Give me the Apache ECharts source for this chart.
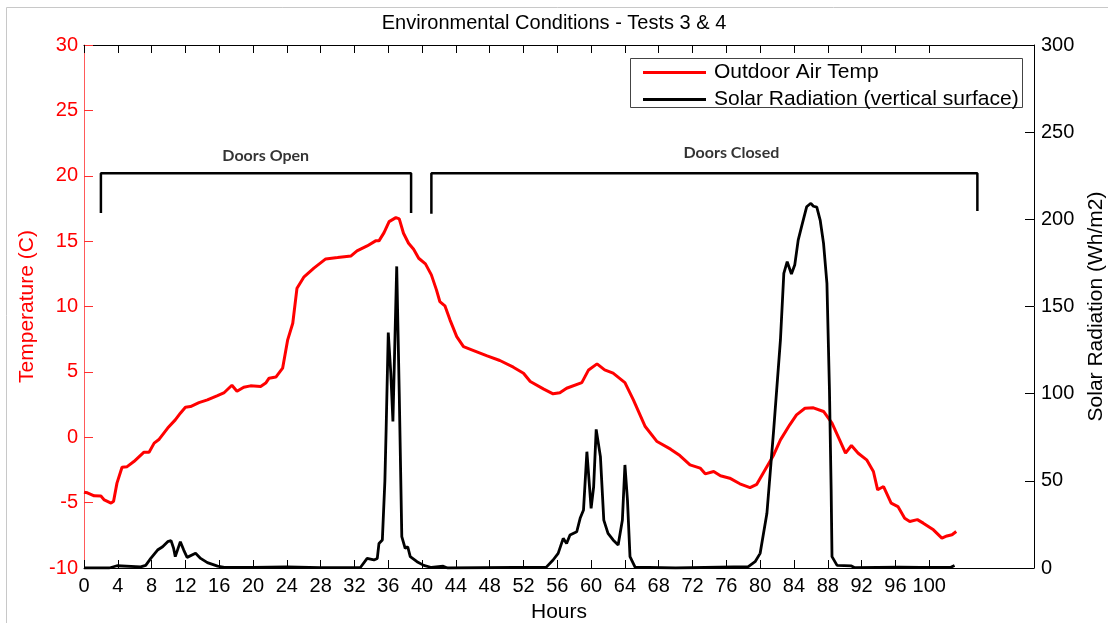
<!DOCTYPE html>
<html>
<head>
<meta charset="utf-8">
<script src="https://cdn.jsdelivr.net/npm/echarts@6/dist/echarts.min.js"></script>
<style>
  html, body { margin: 0; padding: 0; background: #fff; }
  #chart { width: 1108px; height: 623px; }
</style>
</head>
<body>
<div id="chart"></div>
<script>
// Outdoor air temperature (C) over the test period
const tempHours = [0.0, 0.4, 1.2, 2.0, 2.4, 3.2, 3.5, 3.9, 4.5, 5.1, 5.9, 7.1, 7.7, 8.3, 8.9, 9.9, 10.8, 11.4, 12.0, 12.6,
  13.6, 14.6, 15.8, 16.6, 17.5, 18.1, 18.9, 19.7, 20.9, 21.5, 21.9, 22.7, 23.5, 24.1, 24.7, 25.2, 26.0, 27.2, 28.6, 30.0,
  31.6, 32.3, 33.5, 34.5, 34.9, 35.5, 36.1, 36.9, 37.3, 37.8, 38.4, 39.0, 39.6, 40.4, 41.1, 41.7, 42.1, 42.7, 43.3, 44.1,
  44.9, 46.1, 47.7, 49.2, 50.8, 52.0, 52.8, 54.4, 55.5, 56.3, 57.1, 58.9, 59.7, 60.7, 61.6, 62.6, 64.0, 65.0, 66.4, 67.8,
  69.4, 70.5, 71.7, 72.9, 73.5, 74.5, 75.3, 76.4, 77.6, 78.8, 79.6, 80.4, 81.6, 82.4, 83.5, 84.3, 85.3, 86.3, 87.5, 88.5,
  89.4, 90.1, 90.8, 91.6, 92.6, 93.4, 93.9, 94.6, 95.5, 96.3, 97.1, 97.7, 98.6, 99.3, 100.5, 101.5, 102.1, 102.7, 103.2];
const tempValues = [-4.2, -4.25, -4.48, -4.5, -4.79, -5.04, -4.9, -3.51, -2.29, -2.25, -1.86, -1.14, -1.14, -0.45, -0.15, 0.70, 1.33, 1.84, 2.30, 2.35,
  2.65, 2.86, 3.19, 3.42, 3.98, 3.52, 3.83, 3.93, 3.88, 4.14, 4.52, 4.6, 5.28, 7.45, 8.72, 11.4, 12.24, 12.93, 13.64, 13.74,
  13.87, 14.25, 14.63, 15.02, 15.02, 15.65, 16.49, 16.8, 16.7, 15.6, 14.84, 14.38, 13.69, 13.26, 12.42, 11.27, 10.38, 10.05, 8.98, 7.70,
  6.93, 6.63, 6.22, 5.87, 5.36, 4.90, 4.26, 3.68, 3.32, 3.4, 3.75, 4.18, 5.15, 5.61, 5.15, 4.90, 4.18, 2.86, 0.82, -0.33,
  -0.91, -1.4, -2.11, -2.36, -2.80, -2.62, -2.95, -3.13, -3.56, -3.85, -3.6, -2.69, -1.35, -0.20, 0.95, 1.71, 2.22, 2.25, 1.97, 1.08,
  -0.20, -1.22, -0.63, -1.22, -1.73, -2.62, -4.02, -3.77, -5.04, -5.30, -6.19, -6.44, -6.3, -6.57, -7.08, -7.72, -7.55, -7.46, -7.21];

// Solar radiation on a vertical surface (Wh/m2)
const solarHours = [0, 3.0, 3.9, 6.7, 7.3, 7.9, 8.7, 9.3, 9.9, 10.3, 10.6, 10.8, 11.4, 11.8, 12.2, 13.2, 13.8, 14.6, 15.8, 16.6,
  20, 24, 28, 32.7, 33.5, 34.3, 34.7, 34.9, 35.3, 35.6, 35.75, 36.0, 36.3, 36.55, 37.0, 37.3, 37.6, 38.0, 38.3, 38.6,
  39.4, 40.2, 41.1, 42.5, 43, 54.7, 55.5, 56.1, 56.7, 57.1, 57.5, 58.3, 58.7, 59.1, 59.5, 60.0, 60.3, 60.6, 61.1, 61.5,
  62.0, 62.6, 63.2, 63.7, 64.0, 64.3, 64.6, 65.2, 70, 78.6, 79.4, 80.0, 80.8, 81.6, 82.4, 82.8, 83.2, 83.7, 84.1, 84.5,
  84.9, 85.5, 86.0, 86.3, 86.7, 87.1, 87.5, 87.9, 88.2, 88.4, 88.5, 89.1, 90.8, 91.2, 96.5, 99, 102.5, 103.0];
const solarValues = [0, 0, 1.3, 0.6, 1.5, 5.5, 10.3, 12.2, 15.1, 15.7, 11.3, 6.5, 15.1, 10.3, 6.1, 8.4, 5.5, 3.1, 1.1, 0.3,
  0.3, 0.6, 0.2, 0.3, 5.5, 4.6, 5.5, 14.1, 16.1, 50, 80, 135, 111.7, 84, 173, 100, 18, 11.3, 12.2, 6.5,
  3.6, 1.5, 0.3, 1, 0, 0.5, 4.6, 8.4, 17, 14.1, 18.9, 20.8, 28.5, 33.3, 66.7, 34.2, 46.6, 79.5, 63.9, 27.5,
  19.9, 16.1, 13.2, 27.5, 59.1, 39, 6.5, 0.5, 0, 0.8, 3.6, 8.4, 31.4, 79.2, 130.8, 169, 175.7, 168.6, 174, 188.1,
  195.8, 207.2, 209.2, 207.5, 207, 199.6, 186.2, 163.3, 102, 44.7, 6.5, 1.5, 1.2, 0.2, 0.5, 0.4, 0.3, 1.5];

// Axis ticks
const hourTicks = [0, 4, 8, 12, 16, 20, 24, 28, 32, 36, 40, 44, 48, 52, 56, 60, 64, 68, 72, 76, 80, 84, 88, 92, 96, 100];
const tempTicks = [-10, -5, 0, 5, 10, 15, 20, 25, 30];
const solarTicks = [0, 50, 100, 150, 200, 250, 300];

// Test-phase brackets (hours, temperature-axis units)
const openBracketHours = [2.0, 2.0, 38.7, 38.7];
const openBracketTemps = [17.15, 20.2, 20.2, 17.15];
const closedBracketHours = [41.1, 41.1, 105.7, 105.7];
const closedBracketTemps = [17.1, 20.2, 20.2, 17.3];
const phaseLabels = ['Doors Open', 'Doors Closed'];
const phaseLabelHours = [21.5, 76.6];
const phaseLabelTemps = [21.5, 21.75];

const zip = (xs, ys) => xs.map((x, i) => [x, ys[i]]);
const FONT = '"Liberation Sans", Arial, sans-serif';

const chart = echarts.init(document.getElementById('chart'), null, { renderer: 'canvas' });

const xCommon = {
  type: 'value', min: 0, max: 112.4,
  splitLine: { show: false },
  axisTick: { inside: true, length: 8, customValues: hourTicks, lineStyle: { color: '#000', width: 1 } },
  axisLine: { onZero: false, lineStyle: { color: '#000', width: 1 } }
};

chart.setOption({
  animation: false,
  backgroundColor: '#fff',
  title: {
    text: 'Environmental Conditions - Tests 3 & 4',
    left: 'center', top: 8,
    textStyle: { fontFamily: FONT, fontSize: 20, fontWeight: 'normal', color: '#000' }
  },
  legend: {
    orient: 'vertical',
    left: 630, top: 58,
    data: ['Outdoor Air Temp', 'Solar Radiation (vertical surface)'],
    icon: 'rect',
    itemWidth: 63, itemHeight: 3, itemGap: 6,
    padding: [4, 7, 0, 13],
    textStyle: { fontFamily: FONT, fontSize: 21, color: '#000', padding: [0, 0, 0, 3] }
  },
  graphic: [
    {
      type: 'rect', silent: true,
      shape: { x: 6.5, y: 7.5, width: 1200, height: 700 },
      style: { fill: 'none', stroke: '#c8c8c8', lineWidth: 1 }
    },
    {
      type: 'rect', silent: true, z: 1,
      shape: { x: 630.5, y: 58.5, width: 392, height: 49 },
      style: { fill: '#fff', stroke: '#444', lineWidth: 1 }
    }
  ],
  grid: { left: 84, right: 74, top: 45, bottom: 55, containLabel: false, outerBoundsMode: 'none' },
  xAxis: [
    Object.assign({}, xCommon, {
      position: 'bottom',
      name: 'Hours', nameLocation: 'middle', nameGap: 34,
      nameTextStyle: { fontFamily: FONT, fontSize: 21, color: '#000' },
      axisLabel: { customValues: hourTicks, margin: 8, fontFamily: FONT, fontSize: 20, color: '#000' }
    }),
    Object.assign({}, xCommon, { position: 'top', axisLabel: { show: false } })
  ],
  yAxis: [
    {
      type: 'value', min: -10, max: 30, interval: 5, position: 'left',
      name: 'Temperature (C)', nameLocation: 'middle', nameGap: 46, nameRotate: 90,
      nameTextStyle: { fontFamily: FONT, fontSize: 21, color: '#ff0000' },
      splitLine: { show: false },
      axisLine: { show: true, onZero: false, lineStyle: { color: '#ff5a5a', width: 1 } },
      axisTick: { show: true, inside: true, length: 9, customValues: tempTicks, lineStyle: { color: '#ff3030' } },
      axisLabel: { margin: 6, customValues: tempTicks, fontFamily: FONT, fontSize: 20, color: '#ff0000' }
    },
    {
      type: 'value', min: 0, max: 300, interval: 50, position: 'right',
      name: 'Solar Radiation (Wh/m2)', nameLocation: 'middle', nameGap: 52, nameRotate: 90,
      nameTextStyle: { fontFamily: FONT, fontSize: 21, color: '#000' },
      splitLine: { show: false },
      axisLine: { show: true, onZero: false, lineStyle: { color: '#000', width: 1 } },
      axisTick: { show: true, inside: true, length: 9, customValues: solarTicks, lineStyle: { color: '#000' } },
      axisLabel: { margin: 7, customValues: solarTicks, fontFamily: FONT, fontSize: 20, color: '#000' }
    }
  ],
  series: [
    {
      name: 'Outdoor Air Temp', type: 'line', xAxisIndex: 0, yAxisIndex: 0,
      data: zip(tempHours, tempValues), showSymbol: false, symbol: 'none',
      lineStyle: { color: '#ff0000', width: 3 }, itemStyle: { color: '#ff0000' }, z: 3
    },
    {
      name: 'Solar Radiation (vertical surface)', type: 'line', xAxisIndex: 0, yAxisIndex: 1,
      data: zip(solarHours, solarValues), showSymbol: false, symbol: 'none',
      lineStyle: { color: '#000', width: 2.8 }, itemStyle: { color: '#000' }, z: 4
    },
    {
      name: 'open-bracket', type: 'line', xAxisIndex: 0, yAxisIndex: 0,
      data: zip(openBracketHours, openBracketTemps), showSymbol: false, symbol: 'none',
      lineStyle: { color: '#000', width: 2.5 }, silent: true
    },
    {
      name: 'closed-bracket', type: 'line', xAxisIndex: 0, yAxisIndex: 0,
      data: zip(closedBracketHours, closedBracketTemps), showSymbol: false, symbol: 'none',
      lineStyle: { color: '#000', width: 2.5 }, silent: true
    },
    {
      name: 'phase-labels', type: 'scatter', xAxisIndex: 0, yAxisIndex: 0,
      symbolSize: 0, silent: true,
      data: phaseLabels.map((t, i) => ({ value: [phaseLabelHours[i], phaseLabelTemps[i]], name: t })),
      label: {
        show: true, position: 'inside', formatter: p => p.name,
        fontFamily: 'Lato, "Open Sans", sans-serif', fontWeight: 'bold', fontSize: 16, color: '#000'
      }
    }
  ]
});
</script>
</body>
</html>
